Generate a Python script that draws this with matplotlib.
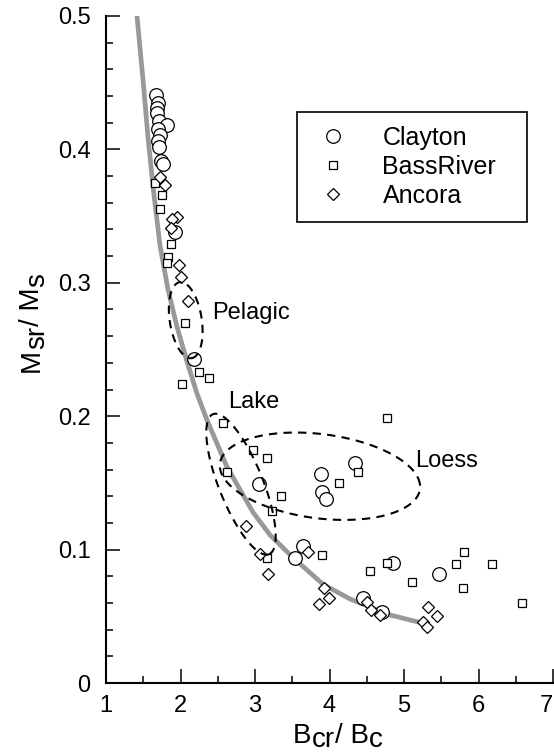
"""Squareness vs coercivity ratio scatter (Clayton / BassRiver / Ancora) with mixing curve."""
import matplotlib

matplotlib.use("Agg")
import matplotlib.pyplot as plt
import numpy as np

plt.rcParams["font.family"] = ["Liberation Sans", "DejaVu Sans"]

# ---- data ----
clayton_x = [1.67, 1.70, 1.68, 1.69, 1.71, 1.82, 1.70, 1.72, 1.70, 1.71, 1.74, 1.76,
             1.93, 2.18, 3.05, 3.89, 3.90, 3.95, 4.34, 3.54, 3.64, 4.45, 4.70, 4.85, 5.47]
clayton_y = [0.441, 0.435, 0.431, 0.427, 0.421, 0.418, 0.415, 0.411, 0.406, 0.402, 0.391, 0.389,
             0.338, 0.243, 0.149, 0.157, 0.143, 0.138, 0.165, 0.094, 0.103, 0.064, 0.053, 0.090, 0.082]

bass_x = [1.66, 1.75, 1.72, 1.87, 1.83, 1.82, 2.06, 2.25, 2.38, 2.02, 2.57, 2.97, 3.16,
          2.62, 3.35, 3.23, 3.16, 3.90, 4.13, 4.38, 4.77, 4.54, 4.77, 5.11, 5.70, 5.81,
          5.79, 6.18, 6.58]
bass_y = [0.375, 0.366, 0.355, 0.329, 0.319, 0.315, 0.270, 0.233, 0.229, 0.224, 0.195, 0.175, 0.169,
          0.158, 0.140, 0.129, 0.094, 0.096, 0.150, 0.158, 0.199, 0.084, 0.090, 0.076, 0.089, 0.098,
          0.071, 0.089, 0.060]

ancora_x = [1.72, 1.79, 1.95, 1.89, 1.87, 1.98, 2.01, 2.10, 2.88, 3.07, 3.17, 3.71, 3.93,
            3.99, 3.86, 4.50, 4.56, 4.68, 5.32, 5.44, 5.25, 5.31]
ancora_y = [0.379, 0.373, 0.349, 0.348, 0.341, 0.313, 0.304, 0.286, 0.118, 0.097, 0.082, 0.098, 0.071,
            0.064, 0.059, 0.061, 0.055, 0.051, 0.057, 0.050, 0.046, 0.042]

curve_x = [1.416, 1.497, 1.564, 1.631, 1.725, 1.832, 1.953, 2.087, 2.221, 2.356, 2.624,
           2.973, 3.201, 3.510, 3.913, 4.275, 4.812, 5.242]
curve_y = [0.500, 0.452, 0.409, 0.372, 0.328, 0.295, 0.267, 0.241, 0.217, 0.197, 0.162,
           0.128, 0.111, 0.094, 0.074, 0.063, 0.051, 0.045]

# region outlines: name, centre, half-axis vector u, half-axis vector v
region_names = ["Pelagic", "Lake", "Loess"]
region_centre = [(2.07, 0.272), (2.812, 0.149), (3.872, 0.155)]
region_u = [(0.0805, -0.0285), (0.376, -0.0525), (1.342, -0.0060)]
region_v = [(0.212, 0.0019), (0.275, 0.0061), (-0.0805, 0.0322)]
label_pos = [(2.42, 0.273), (2.64, 0.206), (5.15, 0.162)]

series = [
    ("Clayton", clayton_x, clayton_y, "o", 9.8),
    ("BassRiver", bass_x, bass_y, "s", 6.4),
    ("Ancora", ancora_x, ancora_y, "D", 5.8),
]

# axis titles as (text, subscript drop in points)
xlabel_parts = [("B", 0), ("cr", 3.2), ("/ B", 0), ("c", 3.2)]
ylabel_parts = [("M", 0), ("sr", 3.6), ("/ M", 0), ("s", 3.6)]

fig = plt.figure(figsize=(5.54, 7.56), dpi=100)
ax = fig.add_axes([106 / 554, 73 / 756, 447 / 554, 667 / 756])

ax.plot(curve_x, curve_y, color="#999999", lw=3.4, solid_capstyle="butt",
        solid_joinstyle="round", zorder=1)

for name, xs, ys, mk, ms in series:
    ax.plot(xs, ys, ls="none", marker=mk, ms=ms, mfc="white", mec="black",
            mew=0.9, label=name, zorder=2)

t = np.linspace(0, 2 * np.pi, 200)
for (cx, cy), (ux, uy), (vx, vy) in zip(region_centre, region_u, region_v):
    ax.plot(cx + ux * np.cos(t) + vx * np.sin(t), cy + uy * np.cos(t) + vy * np.sin(t),
            color="black", lw=1.5, ls=(0, (4, 3)), zorder=3)

for name, (lx, ly) in zip(region_names, label_pos):
    ax.text(lx, ly, name, fontsize=17, ha="left", va="baseline", zorder=4)

ax.set_xlim(1, 7)
ax.set_ylim(0, 0.5)
ax.set_xticks(np.arange(1, 8))
ax.set_xticks(np.arange(1.5, 7, 1.0), minor=True)
ax.set_yticks(np.arange(0, 0.51, 0.1))
ax.set_yticks(np.arange(0, 0.5, 0.02), minor=True)
ax.set_yticklabels(["0", "0.1", "0.2", "0.3", "0.4", "0.5"])
ax.tick_params(which="both", direction="in", width=1.1, labelsize=17)
ax.tick_params(which="major", length=10)
ax.tick_params(which="minor", length=5)
ax.tick_params(axis="x", pad=9)
ax.tick_params(axis="y", pad=11)
ax.get_xticklabels()[-1].set_horizontalalignment("right")

for side in ("top", "right"):
    ax.spines[side].set_visible(False)
for side in ("left", "bottom"):
    ax.spines[side].set_linewidth(1.5)


def build_label(parts, x, y, rotation, size=20):
    """Write an axis title piece by piece so subscripts keep full-size letters."""
    last = fig.text(x, y, parts[0][0], fontsize=size, rotation=rotation,
                    rotation_mode="anchor", ha="left", va="baseline")
    prev_drop = parts[0][1]
    for text, drop in parts[1:]:
        d = drop - prev_drop
        if rotation == 0:
            last = ax.annotate(text, xy=(1, 0), xycoords=last, xytext=(0, -d),
                               textcoords="offset points", fontsize=size,
                               ha="left", va="bottom", annotation_clip=False)
        else:
            last = ax.annotate(text, xy=(0, 1), xycoords=last, xytext=(d, 0),
                               textcoords="offset points", fontsize=size, rotation=90,
                               ha="left", va="bottom", annotation_clip=False)
        prev_drop = drop


build_label(xlabel_parts, 293 / 554, 13 / 756, 0)
build_label(ylabel_parts, 39 / 554, (756 - 372) / 756, 90)

leg = ax.legend(loc="upper left", bbox_to_anchor=(297 / 554, 644 / 756 - 0.01, 230 / 554, 0.01),
                bbox_transform=fig.transFigure, mode="expand", fontsize=18, borderaxespad=0,
                handlelength=1.8, handletextpad=1.07, borderpad=0.55, labelspacing=0.2,
                fancybox=False, framealpha=1, numpoints=1)
leg.get_frame().set_edgecolor("black")
leg.get_frame().set_linewidth(1.2)

fig.savefig("out.png", dpi=100)
